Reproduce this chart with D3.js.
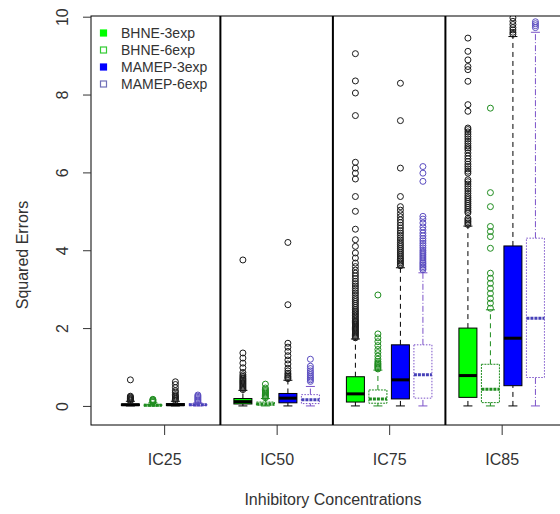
<!DOCTYPE html>
<html>
<head>
<meta charset="utf-8">
<script src="https://cdn.jsdelivr.net/npm/d3@7"></script>
<style>
  html, body { margin: 0; padding: 0; background: #fff; }
  svg { display: block; }
  text { font-family: "Liberation Sans", Arial, sans-serif; fill: #333; }
</style>
</head>
<body>
<svg id="chart" width="560" height="514"></svg>
<script>
// Inhibitory concentrations (x groups) and the four model series
const concentrations = ["IC25", "IC50", "IC75", "IC85"];
const seriesNames = ["BHNE-3exp", "BHNE-6exp", "MAMEP-3exp", "MAMEP-6exp"];
const yTicks = [0, 2, 4, 6, 8, 10];

// Box statistics per concentration: [lower whisker, Q1, median, Q3, upper whisker]
const bhne3Stats = [
  [0, 0.01, 0.03, 0.05, 0.12],
  [0, 0.05, 0.11, 0.19, 0.40],
  [0, 0.10, 0.31, 0.75, 1.72],
  [0, 0.22, 0.78, 2.00, 4.62]
];
const bhne6Stats = [
  [0, 0.00, 0.02, 0.04, 0.08],
  [0, 0.02, 0.05, 0.10, 0.19],
  [0, 0.07, 0.18, 0.41, 0.92],
  [0, 0.085, 0.43, 1.07, 2.47]
];
const mamep3Stats = [
  [0, 0.01, 0.03, 0.06, 0.12],
  [0, 0.08, 0.20, 0.32, 0.66],
  [0, 0.18, 0.67, 1.57, 3.55],
  [0, 0.52, 1.74, 4.11, 9.49]
];
const mamep6Stats = [
  [0, 0.01, 0.03, 0.05, 0.08],
  [0, 0.06, 0.16, 0.29, 0.50],
  [0, 0.20, 0.80, 1.57, 3.42],
  [0, 0.73, 2.25, 4.31, 9.60]
];

// Outlying squared errors per concentration
const bhne3Outliers = [
  [0.13, 0.15, 0.17, 0.19, 0.21, 0.23, 0.25, 0.67],
  [0.42, 0.45, 0.48, 0.51, 0.54, 0.57, 0.6, 0.63, 0.66, 0.69, 0.72, 0.76, 0.8, 0.86, 0.98, 1.1, 1.23, 1.36, 3.75],
  [1.75, 1.78, 1.81, 1.84, 1.87, 1.9, 1.93, 1.96, 1.99, 2.02, 2.05, 2.08, 2.11, 2.14, 2.17, 2.2, 2.24, 2.28,
   2.32, 2.36, 2.4, 2.44, 2.48, 2.53, 2.58, 2.63, 2.68, 2.73, 2.78, 2.84, 2.9, 2.96, 3.02, 3.08, 3.14, 3.2,
   3.27, 3.34, 3.41, 3.49, 3.58, 3.67, 3.8, 3.93, 4.1, 4.27, 4.54, 5.0, 5.38, 5.83, 5.98, 6.11, 6.26, 7.46,
   8.04, 8.35, 9.05],
  [4.66, 4.7, 4.74, 4.78, 4.82, 4.96, 5.0, 5.05, 5.1, 5.15, 5.2, 5.25, 5.3, 5.35, 5.4, 5.46, 5.52, 5.58,
   5.64, 5.7, 5.76, 5.81, 5.98, 6.03, 6.09, 6.15, 6.21, 6.28, 6.35, 6.42, 6.5, 6.58, 6.63, 6.68, 6.74, 6.8,
   6.86, 6.92, 6.98, 7.04, 7.1, 7.14, 7.57, 7.74, 8.34, 8.64, 8.72, 8.89, 9.11, 9.45]
];
const bhne6Outliers = [
  [0.09, 0.11, 0.13, 0.15, 0.17],
  [0.21, 0.24, 0.27, 0.3, 0.33, 0.36, 0.39, 0.42, 0.46, 0.56],
  [0.95, 0.98, 1.01, 1.04, 1.07, 1.1, 1.14, 1.2, 1.28, 1.37, 1.45, 1.55, 1.65, 1.75, 1.85, 2.85],
  [2.51, 2.64, 2.76, 2.89, 3.02, 3.15, 3.28, 3.41, 4.05, 4.35, 4.48, 4.61, 5.12, 5.48, 7.65]
];
const mamep3Outliers = [
  [0.14, 0.17, 0.2, 0.23, 0.26, 0.29, 0.35, 0.39, 0.47, 0.55, 0.62],
  [0.7, 0.73, 0.76, 0.8, 0.84, 0.9, 0.97, 1.08, 1.18, 1.29, 1.4, 1.51, 1.61, 2.6, 4.2],
  [3.6, 3.64, 3.68, 3.72, 3.76, 3.8, 3.85, 3.9, 3.95, 4.0, 4.05, 4.1, 4.15, 4.2, 4.26, 4.32, 4.38, 4.44,
   4.5, 4.57, 4.64, 4.71, 4.78, 4.86, 4.94, 5.03, 5.12, 5.38, 6.11, 7.33, 8.29],
  [9.55, 9.6, 9.66, 9.72, 9.8, 9.88, 9.97]
];
const mamep6Outliers = [
  [0.1, 0.13, 0.16, 0.19, 0.22, 0.25, 0.28],
  [0.63, 0.67, 0.71, 0.75, 0.8, 0.85, 0.9, 0.96, 1.02, 1.2],
  [3.5, 3.54, 3.58, 3.62, 3.66, 3.7, 3.75, 3.8, 3.85, 3.9, 3.95, 4.0, 4.06, 4.12, 4.18, 4.24, 4.3, 4.37,
   4.44, 4.52, 4.6, 4.7, 4.8, 4.87, 5.77, 5.98, 6.15],
  [9.72, 9.77, 9.82, 9.87]
];

const allStats = [bhne3Stats, bhne6Stats, mamep3Stats, mamep6Stats];
const allOutliers = [bhne3Outliers, bhne6Outliers, mamep3Outliers, mamep6Outliers];

// Drawing styles for each series
const styles = [
  { fill: "#00ff00", stroke: "#000", med: "#000", medDash: null, whisk: "#000", whiskDash: "5,4", boxDash: null, out: "#1a1a1a" },
  { fill: "none", stroke: "#1e8c1e", med: "#1e8c1e", medDash: "3,1", whisk: "#1e8c1e", whiskDash: "5,4", boxDash: "2,1", out: "#1e8c1e" },
  { fill: "#0000ff", stroke: "#000", med: "#000", medDash: null, whisk: "#000", whiskDash: "5,4", boxDash: null, out: "#1a1a1a" },
  { fill: "none", stroke: "#7b52c8", med: "#4640b8", medDash: "3,1", whisk: "#7b52c8", whiskDash: "6,2,1,2", boxDash: "1.5,1.5", out: "#5a4cc0" }
];
const legendStyles = [
  { fill: "#00ff00", stroke: "#00ff00" },
  { fill: "#fff", stroke: "#33cc33" },
  { fill: "#0000ff", stroke: "#0000ff" },
  { fill: "#fff", stroke: "#7070b8" }
];

const svg = d3.select("#chart");
svg.append("rect").attr("width", 560).attr("height", 514).attr("fill", "#fff");

const plot = { left: 91, right: 564, top: 16, bottom: 425 };

// Box slots: 4 per group, one empty slot between groups
const x = d3.scaleLinear().domain([-0.75, 20.27]).range([plot.left, plot.right]);
const y = d3.scaleLinear().domain([-0.49, 10]).range([plot.bottom, 16.7]);
const slot = (c, s) => c * 5 + s + 1;
const halfBox = (x(0.4) - x(0));
const halfCap = halfBox / 2;

svg.append("clipPath").attr("id", "plotClip")
  .append("rect")
  .attr("x", plot.left).attr("y", plot.top)
  .attr("width", plot.right - plot.left).attr("height", plot.bottom - plot.top);

const g = svg.append("g").attr("clip-path", "url(#plotClip)");

// Group separators
[5, 10, 15].forEach(p => {
  g.append("line")
    .attr("x1", x(p)).attr("x2", x(p))
    .attr("y1", plot.top).attr("y2", plot.bottom)
    .attr("stroke", "#000").attr("stroke-width", 2);
});

// Boxplots
seriesNames.forEach((name, s) => {
  const st = styles[s];
  concentrations.forEach((conc, c) => {
    const [lo, q1, med, q3, hi] = allStats[s][c];
    const cx = x(slot(c, s));
    const bg = g.append("g");
    // whiskers
    [[lo, q1], [q3, hi]].forEach(([a, b]) => {
      bg.append("line")
        .attr("x1", cx).attr("x2", cx)
        .attr("y1", y(a)).attr("y2", y(b))
        .attr("stroke", st.whisk).attr("stroke-width", 1)
        .attr("stroke-dasharray", st.whiskDash);
    });
    // staples
    [lo, hi].forEach(v => {
      bg.append("line")
        .attr("x1", cx - halfCap).attr("x2", cx + halfCap)
        .attr("y1", y(v)).attr("y2", y(v))
        .attr("stroke", st.whisk).attr("stroke-width", 1);
    });
    // box
    bg.append("rect")
      .attr("x", cx - halfBox).attr("width", 2 * halfBox)
      .attr("y", y(q3)).attr("height", Math.max(0.5, y(q1) - y(q3)))
      .attr("fill", st.fill === "none" ? "#fff" : st.fill)
      .attr("fill-opacity", st.fill === "none" ? 0 : 1)
      .attr("stroke", st.stroke).attr("stroke-width", 1)
      .attr("stroke-dasharray", st.boxDash);
    // median
    bg.append("line")
      .attr("x1", cx - halfBox).attr("x2", cx + halfBox)
      .attr("y1", y(med)).attr("y2", y(med))
      .attr("stroke", st.med).attr("stroke-width", 3)
      .attr("stroke-dasharray", st.medDash);
    // outliers
    bg.selectAll("circle.out")
      .data(allOutliers[s][c])
      .join("circle")
      .attr("class", "out")
      .attr("cx", cx).attr("cy", d => y(d)).attr("r", 3)
      .attr("fill", "none").attr("stroke", st.out).attr("stroke-width", 1);
  });
});

// Frame
svg.append("rect")
  .attr("x", plot.left).attr("y", plot.top)
  .attr("width", plot.right - plot.left).attr("height", plot.bottom - plot.top)
  .attr("fill", "none").attr("stroke", "#000").attr("stroke-width", 1);

// Y axis
const yAxis = svg.append("g")
  .attr("transform", `translate(${plot.left},0)`)
  .call(d3.axisLeft(y).tickValues(yTicks).tickSize(8).tickSizeOuter(0).tickFormat(d3.format("d")));
yAxis.select(".domain").remove();
yAxis.selectAll(".tick line").attr("stroke", "#333");
yAxis.selectAll(".tick text")
  .attr("x", 0).attr("y", 0)
  .attr("transform", "translate(-29,0) rotate(-90)")
  .attr("text-anchor", "middle")
  .attr("dy", "0.36em")
  .style("font-size", "16px")
  .style("font-family", "Liberation Sans, Arial, sans-serif")
  .attr("fill", "#333");

// X axis
const xAxis = svg.append("g")
  .attr("transform", `translate(0,${plot.bottom})`)
  .call(d3.axisBottom(x)
    .tickValues(concentrations.map((c, i) => slot(i, 1.5)))
    .tickFormat((d, i) => concentrations[i])
    .tickSize(10).tickSizeOuter(0));
xAxis.select(".domain").remove();
xAxis.selectAll(".tick line").attr("stroke", "#333");
xAxis.selectAll(".tick text")
  .attr("y", 34).attr("dy", "0.36em")
  .style("font-size", "16px")
  .style("font-family", "Liberation Sans, Arial, sans-serif")
  .attr("fill", "#333");

// Axis titles
svg.append("text")
  .attr("x", (x(slot(0, 1.5)) + x(slot(3, 1.5))) / 2).attr("y", 499)
  .attr("text-anchor", "middle").attr("dy", "0.36em")
  .style("font-size", "16px")
  .text("Inhibitory Concentrations");
svg.append("text")
  .attr("transform", "translate(22,255) rotate(-90)")
  .attr("text-anchor", "middle").attr("dy", "0.36em")
  .style("font-size", "16px")
  .text("Squared Errors");

// Legend
const legend = svg.append("g");
seriesNames.forEach((name, i) => {
  const ly = 33 + i * 17;
  legend.append("rect")
    .attr("x", 100.5).attr("y", ly - 3).attr("width", 6).attr("height", 6)
    .attr("fill", legendStyles[i].fill).attr("stroke", legendStyles[i].stroke)
    .attr("stroke-width", 1.2);
  legend.append("text")
    .attr("x", 121).attr("y", ly).attr("dy", "0.36em")
    .style("font-size", "14px")
    .text(name);
});
</script>
</body>
</html>
